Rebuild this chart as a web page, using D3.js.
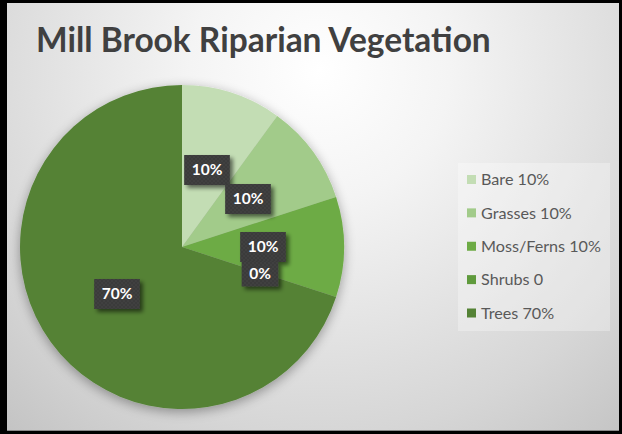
<!DOCTYPE html>
<html>
<head>
<meta charset="utf-8">
<script src="https://cdn.jsdelivr.net/npm/d3@7"></script>
<style>
  html, body { margin: 0; padding: 0; background: #000; }
  svg { display: block; }
</style>
</head>
<body>
<svg id="chart" width="622" height="434"></svg>
<script>
// Riparian vegetation cover, share of the survey transect
const categories = ["Bare", "Grasses", "Moss/Ferns", "Shrubs", "Trees"];
const values = [10, 10, 10, 0, 70];
const legendLabels = ["Bare 10%", "Grasses 10%", "Moss/Ferns 10%", "Shrubs 0", "Trees 70%"];
const colors = ["#c3ddb4", "#a2cb8a", "#6dab45", "#5f9a3c", "#548235"];

const svg = d3.select("#chart");
const defs = svg.append("defs");

// Panel background: soft radial light falling off toward the corners
const bg = defs.append("radialGradient").attr("id", "bg")
  .attr("gradientUnits", "userSpaceOnUse")
  .attr("cx", 320).attr("cy", 70).attr("r", 520);
bg.append("stop").attr("offset", "0").attr("stop-color", "#ffffff");
bg.append("stop").attr("offset", "0.25").attr("stop-color", "#f4f4f4");
bg.append("stop").attr("offset", "0.7").attr("stop-color", "#d6d6d6");
bg.append("stop").attr("offset", "1").attr("stop-color", "#bdbdbd");

// Soft outer shadow for the pie
const sh = defs.append("filter").attr("id", "pieShadow")
  .attr("x", "-20%").attr("y", "-20%").attr("width", "140%").attr("height", "140%");
sh.append("feGaussianBlur").attr("in", "SourceAlpha").attr("stdDeviation", 6).attr("result", "b");
sh.append("feOffset").attr("in", "b").attr("dx", 0).attr("dy", 3).attr("result", "o");
sh.append("feComponentTransfer").attr("in", "o").attr("result", "s")
  .append("feFuncA").attr("type", "linear").attr("slope", 0.35);
const shm = sh.append("feMerge");
shm.append("feMergeNode").attr("in", "s");
shm.append("feMergeNode").attr("in", "SourceGraphic");

// Offset shadow for the label boxes
const lsh = defs.append("filter").attr("id", "lblShadow")
  .attr("x", "-30%").attr("y", "-30%").attr("width", "170%").attr("height", "170%");
lsh.append("feGaussianBlur").attr("in", "SourceAlpha").attr("stdDeviation", 2).attr("result", "b");
lsh.append("feOffset").attr("in", "b").attr("dx", 3).attr("dy", 3).attr("result", "o");
lsh.append("feComponentTransfer").attr("in", "o").attr("result", "s")
  .append("feFuncA").attr("type", "linear").attr("slope", 0.55);
const lm = lsh.append("feMerge");
lm.append("feMergeNode").attr("in", "s");
lm.append("feMergeNode").attr("in", "SourceGraphic");

// Dotted texture for the data label boxes
const pat = defs.append("pattern").attr("id", "dots")
  .attr("patternUnits", "userSpaceOnUse").attr("width", 4).attr("height", 4);
pat.append("rect").attr("width", 4).attr("height", 4).attr("fill", "#3a3a3a");
pat.append("circle").attr("cx", 1).attr("cy", 1).attr("r", 0.7).attr("fill", "#4a4a4a");
pat.append("circle").attr("cx", 3).attr("cy", 3).attr("r", 0.7).attr("fill", "#4a4a4a");

// Chart panel inside the black frame
svg.append("rect").attr("x", 7).attr("y", 3).attr("width", 612).attr("height", 428)
  .attr("fill", "url(#bg)");
svg.append("line").attr("x1", 7).attr("x2", 619).attr("y1", 430.5).attr("y2", 430.5)
  .attr("stroke", "#8a8a8a").attr("stroke-width", 1);

// Title, fitted to its width
const title = svg.append("text")
  .attr("x", 36).attr("y", 52)
  .attr("font-family", "Lato, 'Open Sans', sans-serif")
  .attr("font-weight", "bold")
  .attr("font-size", 28)
  .attr("fill", "#404040")
  .text("Mill Brook Riparian Vegetation");
{
  const w = title.node().getComputedTextLength();
  title.attr("font-size", 28 * 455 / w);
}

// Pie
const cx = 182, cy = 247, R = 162;
const data = categories.map((c, i) => ({ name: c, value: values[i], color: colors[i] }));
const pie = d3.pie().value(d => d.value).sort(null);
const arcs = pie(data);
const arc = d3.arc().innerRadius(0).outerRadius(R);

const pieG = svg.append("g").attr("transform", `translate(${cx},${cy})`)
  .attr("filter", "url(#pieShadow)");
pieG.selectAll("path").data(arcs).join("path")
  .attr("d", arc)
  .attr("fill", d => d.data.color);

// Data labels (dark boxes)
const labelPos = [[207, 170], [248, 199], [263, 247], [260, 274], [117, 294]];
const lblG = svg.append("g");
arcs.forEach((a, i) => {
  const [lx, ly] = labelPos[i];
  const pct = Math.round(a.data.value / d3.sum(values) * 100) + "%";
  const g = lblG.append("g").attr("transform", `translate(${lx},${ly})`);
  const t = g.append("text")
    .attr("text-anchor", "middle").attr("dy", "0.35em")
    .attr("font-family", "Lato, 'Open Sans', sans-serif")
    .attr("font-weight", "bold").attr("font-size", 15.5)
    .attr("fill", "#ffffff").text(pct);
  const tw = t.node().getComputedTextLength();
  const bw = tw + 15, bh = i === 3 ? 25 : 30;
  g.insert("rect", "text")
    .attr("x", -bw / 2).attr("y", -bh / 2).attr("width", bw).attr("height", bh)
    .attr("fill", "url(#dots)").attr("filter", "url(#lblShadow)");
});

// Legend
const legG = svg.append("g");
legG.append("rect").attr("x", 458).attr("y", 163).attr("width", 152).attr("height", 168)
  .attr("fill", "#ffffff").attr("fill-opacity", 0.3);
const legY = d3.scalePoint().domain(categories).range([179.5, 313]);
const legTexts = [];
categories.forEach((c, i) => {
  const y = legY(c);
  legG.append("rect").attr("x", 467).attr("y", y - 4.5).attr("width", 9).attr("height", 9)
    .attr("fill", colors[i]);
  legTexts.push(legG.append("text")
    .attr("x", 481).attr("y", y).attr("dy", "0.36em")
    .attr("font-family", "Lato, 'Open Sans', sans-serif")
    .attr("font-size", 14).attr("fill", "#595959")
    .text(legendLabels[i]));
});
// Size legend text so the longest entry spans the box
{
  const maxW = d3.max(legTexts, t => t.node().getComputedTextLength());
  const fs = 14 * 120 / maxW;
  legTexts.forEach(t => t.attr("font-size", fs));
}
</script>
</body>
</html>
